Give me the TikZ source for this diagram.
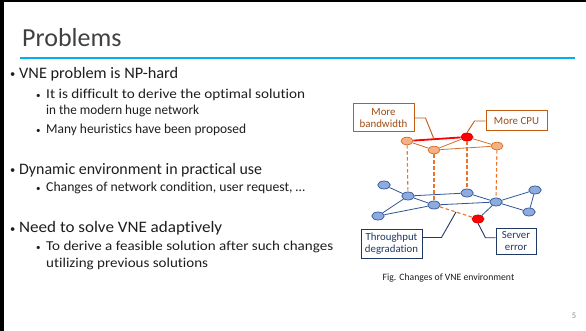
\documentclass[tikz,border=0pt]{standalone}
\usepackage{fontspec}
\usepackage{graphicx}
\setmainfont{Carlito}[Ligatures=NoCommon]
\usetikzlibrary{shapes.geometric,calc}

\definecolor{titlecol}{RGB}{64,64,64}
\definecolor{bodycol}{RGB}{30,30,30}
\definecolor{rulecol}{RGB}{0,176,240}
\definecolor{orfill}{RGB}{244,177,131}
\definecolor{oredge}{RGB}{214,112,40}
\definecolor{dashcol}{RGB}{232,118,40}
\definecolor{orbox}{RGB}{197,90,17}
\definecolor{ortext}{RGB}{160,75,20}
\definecolor{blfill}{RGB}{143,170,220}
\definecolor{bledge}{RGB}{47,85,151}
\definecolor{navy}{RGB}{31,56,100}
\definecolor{pagenum}{RGB}{137,137,137}

% a text line set to a given width, keeping its height
\newcommand{\fitline}[2]{\resizebox{#1}{\height}{#2}}

\begin{document}
\begin{tikzpicture}[x=1pt,y=-1pt,
  lvlone/.style={anchor=base west,inner sep=0pt,text=bodycol,font=\fontsize{16}{19}\selectfont},
  lvltwo/.style={anchor=base west,inner sep=0pt,text=bodycol,font=\fontsize{13.6}{16}\selectfont},
  bulone/.style={anchor=base west,inner sep=0pt,text=bodycol,font=\fontsize{10.5}{12}\selectfont},
  bultwo/.style={anchor=base west,inner sep=0pt,text=bodycol,font=\fontsize{9}{10}\selectfont},
  onode/.style={ellipse,draw=oredge,fill=orfill,line width=0.7pt,minimum width=12pt,minimum height=7.5pt,inner sep=0pt},
  rnode/.style={ellipse,draw=red!85!black,fill=red,line width=0.7pt,minimum width=12pt,minimum height=8pt,inner sep=0pt},
  bnode/.style={ellipse,draw=bledge,fill=blfill,line width=0.7pt,minimum width=12.5pt,minimum height=8pt,inner sep=0pt},
  oline/.style={draw=oredge,line width=0.8pt},
  bline/.style={draw=bledge,line width=0.8pt},
  vdash/.style={draw=dashcol,line width=1.1pt,dash pattern=on 3.5pt off 2.5pt},
  obox/.style={draw=orbox,line width=1pt,fill=white,text=ortext,align=center,inner sep=0pt,font=\fontsize{10.9}{12.5}\selectfont},
  nbox/.style={draw=navy,line width=1pt,fill=white,text=navy,align=center,inner sep=0pt,font=\fontsize{10.8}{12.5}\selectfont},
  ocall/.style={draw=orbox,line width=0.9pt},
  ncall/.style={draw=navy,line width=0.9pt}]

\useasboundingbox (0,0) rectangle (586,331);
\fill[white] (0,0) rectangle (586,331);
% slide frame on the top and left edges
\fill[black] (0,0) rectangle (3.5,331);
\fill[black] (0,0) rectangle (586,2.5);

% title and rule
\node[anchor=base west,inner sep=0pt,text=titlecol,font=\fontsize{26}{30}\selectfont] (title) at (22,46.5) {Problems};
\fill[rulecol] (20,57) rectangle (575,59.5);

% bullet text
\node[bulone] (b1) at (10,78) {•};
\node[lvlone] (t1) at (19,79) {\fitline{159pt}{VNE problem is NP-hard}};
\node[bultwo] (b11) at (36,98.5) {•};
\node[lvltwo] (t11) at (46,99) {\fitline{259pt}{It is difficult to derive the optimal solution}};
\node[lvltwo] (t11b) at (46,115) {\fitline{153pt}{in the modern huge network}};
\node[bultwo] (b12) at (36,133.5) {•};
\node[lvltwo] (t12) at (46,134) {\fitline{200pt}{Many heuristics have been proposed}};

\node[bulone] (b2) at (10,174) {•};
\node[lvlone] (t2) at (19,175) {\fitline{243pt}{Dynamic environment in practical use}};
\node[bultwo] (b21) at (36,191.5) {•};
\node[lvltwo] (t21) at (46,192) {\fitline{259pt}{Changes of network condition, user request, …}};

\node[bulone] (b3) at (10,232) {•};
\node[lvlone] (t3) at (19,233) {\fitline{203pt}{Need to solve VNE adaptively}};
\node[bultwo] (b31) at (36,250.5) {•};
\node[lvltwo] (t31) at (46,251) {\fitline{287pt}{To derive a feasible solution after such changes}};
\node[lvltwo] (t31b) at (46,267) {\fitline{162pt}{utilizing previous solutions}};

% virtual network (upper layer)
\node[onode] (va) at (407,141) {};
\node[rnode] (vr) at (467,137) {};
\node[onode] (vb) at (434,150) {};
\node[onode] (vc) at (497,146) {};

% substrate network (lower layer)
\node[bnode] (s1) at (384,185) {};
\node[bnode] (s2) at (408,196) {};
\node[bnode] (s3) at (434,205) {};
\node[bnode] (s4) at (467,193) {};
\node[bnode] (s5) at (496,202) {};
\node[bnode] (s6) at (535,190) {};
\node[bnode] (s7) at (529,212) {};
\node[bnode] (s8) at (378,216) {};
\node[rnode] (sr) at (478,219) {};

% virtual links
\draw[red,line width=1.8pt] (va) -- (vr);
\draw[oline] (va) -- (vb);
\draw[oline] (vb) -- (vr);
\draw[oline] (vb) -- (vc);
\draw[oline] (vr) -- (vc);

% mapping of virtual nodes onto substrate nodes
\draw[vdash] (va) -- (s2);
\draw[vdash] (vb) -- (s3);
\draw[vdash] (vr) -- (s4);
\draw[vdash] (vc) -- (s5);

% substrate links
\draw[bline] (s1) -- (s2);
\draw[bline] (s2) -- (s4);
\draw[bline] (s2) -- (s3);
\draw[bline] (s2) -- (s8);
\draw[bline] (s8) -- (s3);
\draw[bline] (s3) -- (s5);
\draw[bline] (s4) -- (s5);
\draw[bline] (s5) -- (s6);
\draw[bline] (s6) -- (s7);
\draw[bline] (s5) -- (s7);
\draw[bline] (s5) -- (sr);
\draw[vdash] (s3) -- (sr);

% callout boxes
\node[obox,minimum width=61pt,minimum height=28pt] (bw) at (383.5,118) {More\\bandwidth};
\node[obox,minimum width=61pt,minimum height=20pt] (cpu) at (516.5,121) {More CPU};
\node[nbox,minimum width=61pt,minimum height=29pt] (tp) at (391.5,243.5) {Throughput\\degradation};
\node[nbox,minimum width=40pt,minimum height=26pt] (se) at (516,241) {Server\\error};

% callout leaders
\coordinate (bwtip) at ($(va)!0.45!(vr)$);
\draw[ocall] (bw.east) -- ++(11,0) -- (bwtip);
\draw[ocall] (cpu.west) -- ++(-11,0) -- (vr.north);
\coordinate (tptip) at ($(s3)!0.5!(sr)$);
\draw[ncall] ($(tp.north east)!0.3!(tp.south east)$) -- ++(19,0) -- (tptip);
\draw[ncall] ($(se.north west)!0.38!(se.south west)$) -- ++(-10,0) -- (sr.south);

% caption and page number
\node[inner sep=0pt,text=bodycol,font=\fontsize{9.7}{11}\selectfont] (cap) at (448.5,278) {Fig. Changes of VNE environment};
\node[inner sep=0pt,text=pagenum,font=\fontsize{8.5}{9}\selectfont] (pg) at (574,316) {5};
\end{tikzpicture}
\end{document}
